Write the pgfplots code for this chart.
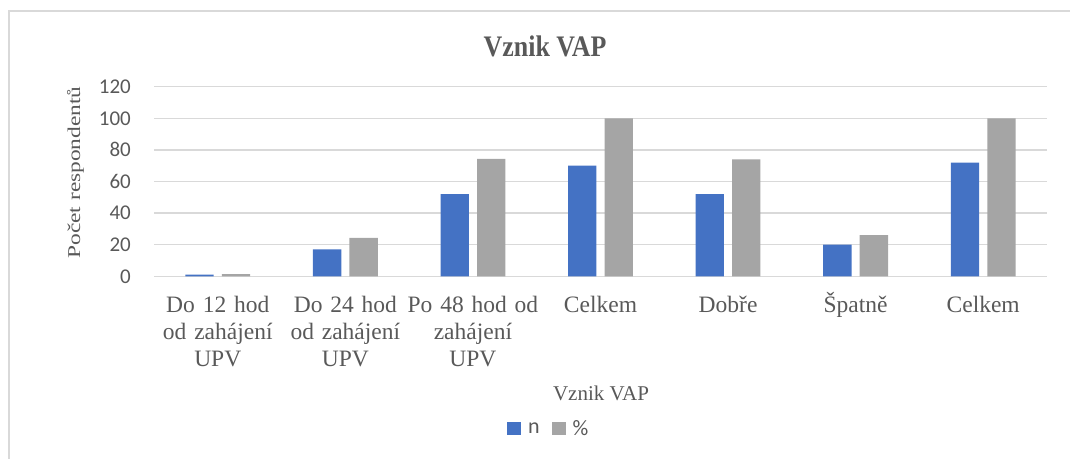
\documentclass[border=0pt]{standalone}
\usepackage{pgfplots}
\pgfplotsset{compat=1.18}
\usepackage{fontspec}
\setmainfont{Liberation Serif}
\newfontfamily\carlito{Carlito}
\definecolor{txt}{HTML}{595959}
\definecolor{gridc}{HTML}{D9D9D9}
\definecolor{cblue}{HTML}{4472C4}
\definecolor{cgray}{HTML}{A5A5A5}
\newcommand\lstrut{\rule{0pt}{22bp}}
\pgfplotstableread{
x n p
0 1 1.4
1 17 24.3
2 52 74.3
3 70 100
4 52 74
5 20 26
6 72 100
}\datatable
\begin{document}
\begin{tikzpicture}
\path[use as bounding box] (0,0) rectangle (1070bp,459bp);
\draw[gridc, line width=1.5bp] (9bp,0) -- (9bp,448bp) -- (1070bp,448bp);
\begin{axis}[
  at={(154bp,182.7bp)}, anchor=south west,
  scale only axis, width=893bp, height=189.6bp,
  xmin=-0.5, xmax=6.5, ymin=0, ymax=120,
  ytick={0,20,...,120},
  xtick={0,...,6},
  xticklabels={
    {\lstrut Do 12 hod\\od zahájení\\UPV},
    {\lstrut Do 24 hod\\od zahájení\\UPV},
    {\lstrut Po 48 hod od\\zahájení\\UPV},
    {\lstrut Celkem},
    {\lstrut Dobře},
    {\lstrut Špatně},
    {\lstrut Celkem}},
  axis line style={draw=none},
  major tick length=0pt,
  ymajorgrids, grid style={gridc, line width=1.3bp},
  /pgf/number format/assume math mode=true,
  yticklabel style={font=\fontsize{21bp}{25bp}\carlito, text=txt, anchor=east, inner sep=0pt, xshift=-23bp},
  xticklabel style={font=\fontsize{23.5bp}{27bp}\selectfont, text=txt, text width=135bp, align=center, anchor=north, inner sep=0pt, yshift=-13.7bp},
  ybar, bar width=0.222,
  legend style={at={(0.442,-0.803)}, anchor=center, draw=none, fill=none,
    legend columns=2, font=\fontsize{22bp}{25bp}\carlito, text=txt,
    /tikz/every even column/.append style={column sep=10bp}},
  legend image code/.code={\fill[#1] (0bp,-6.5bp) rectangle (14bp,6.5bp); \path (19bp,0bp);},
]
\addplot[fill=cblue, draw=none, bar shift=-0.143] table[x=x, y=n] {\datatable};
\addplot[fill=cgray, draw=none, bar shift=0.143] table[x=x, y=p] {\datatable};
\legend{n, \%}
\end{axis}
\node[anchor=base, text=txt, inner sep=0pt] at (545bp,402.3bp) {\scalebox{0.87}[1]{\fontsize{29.8bp}{34bp}\selectfont\bfseries Vznik VAP}};
\node[anchor=base, text=txt, inner sep=0pt] at (601bp,58.3bp) {\fontsize{21bp}{25bp}\selectfont Vznik VAP};
\node[anchor=base, rotate=90, text=txt, inner sep=0pt] at (80bp,286.5bp) {\scalebox{1}[0.77]{\fontsize{23.4bp}{27bp}\selectfont Počet respondentů}};
\end{tikzpicture}
\end{document}
